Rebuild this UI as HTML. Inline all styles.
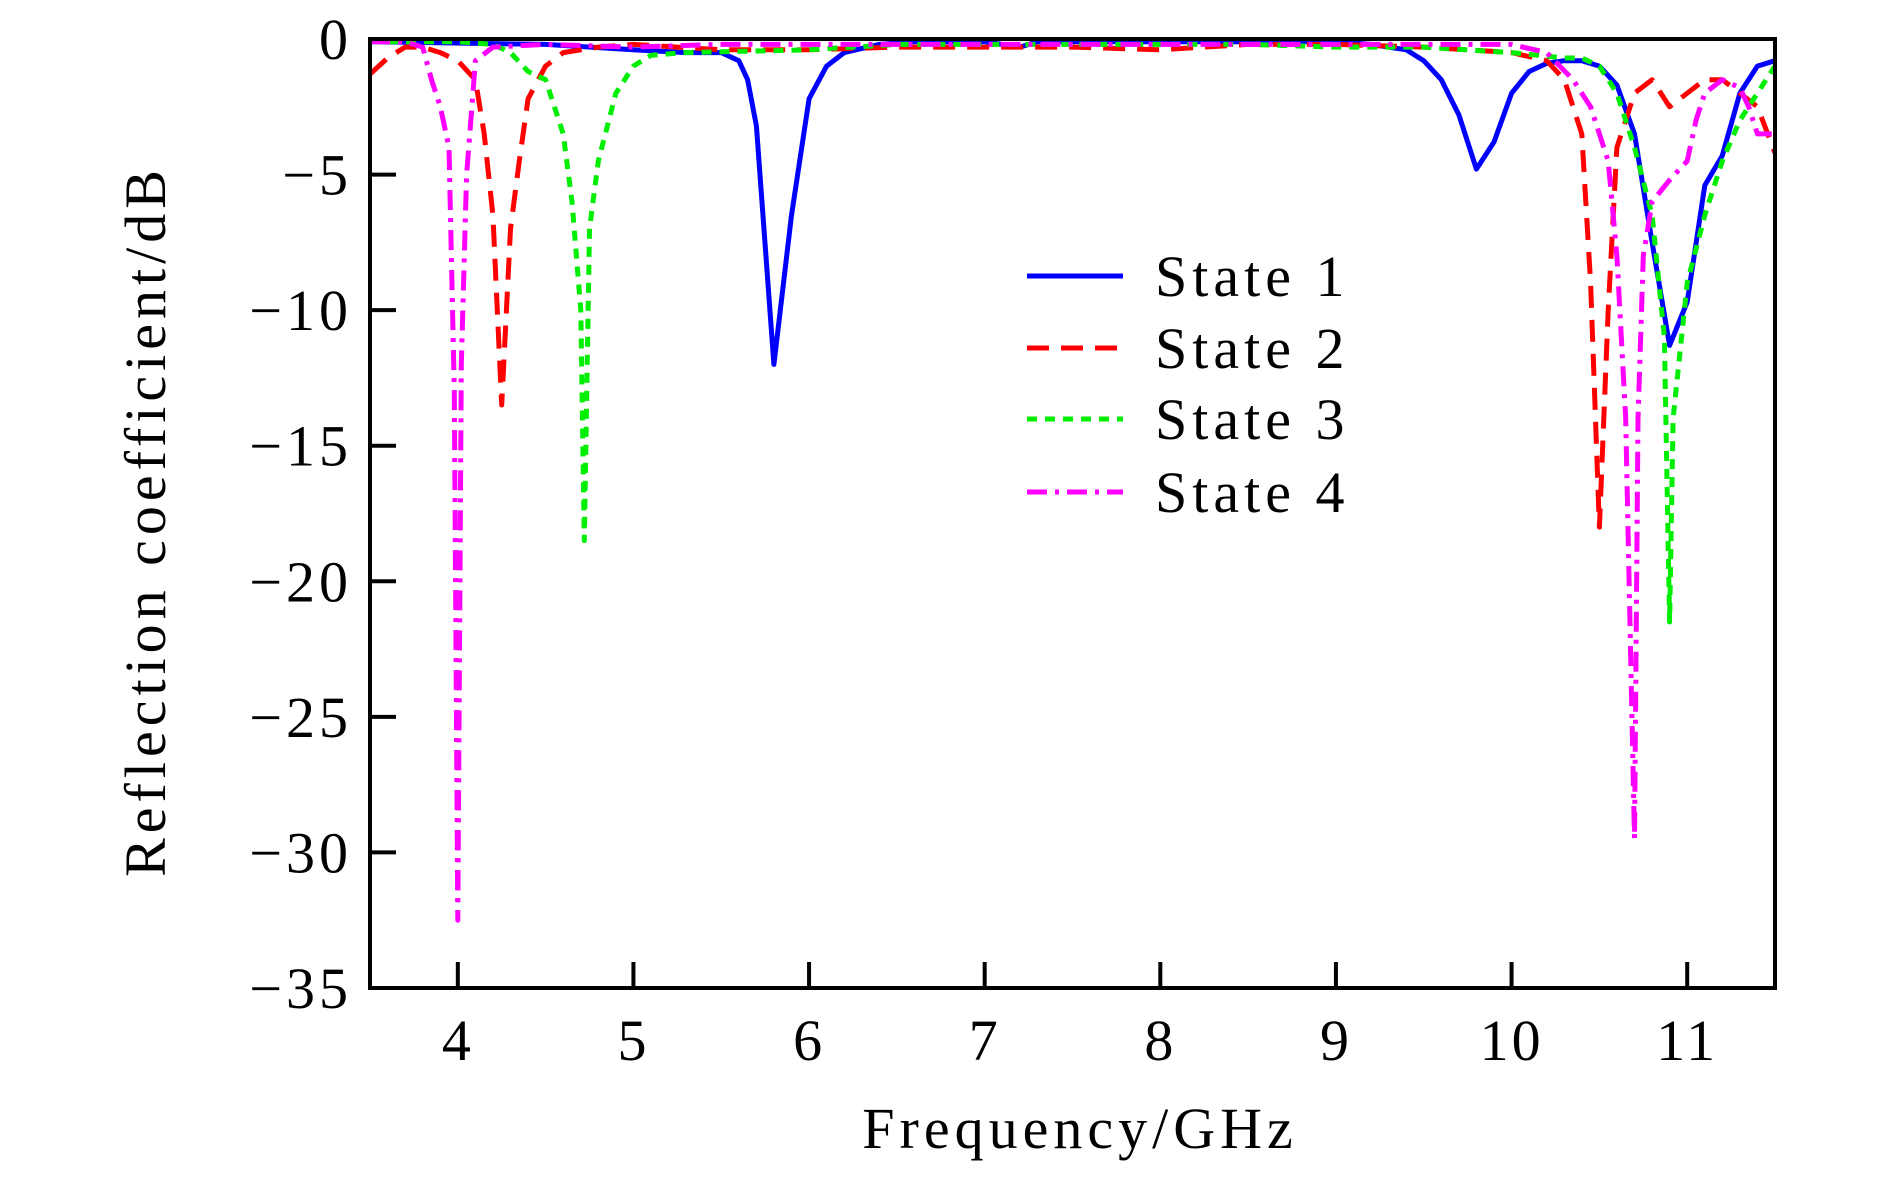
<!DOCTYPE html>
<html><head><meta charset="utf-8"><style>
html,body{margin:0;padding:0;background:#fff;}
svg{display:block;font-family:"Liberation Serif",serif;}
</style></head><body>
<svg id="chart" width="1890" height="1182" viewBox="0 0 1890 1182" xmlns="http://www.w3.org/2000/svg">
<g id="series"></g>
<rect x="370" y="39" width="1405" height="949" fill="none" stroke="#000" stroke-width="4"/>
<g id="ticks"></g>
<text x="1080" y="1148" font-size="58" text-anchor="middle" letter-spacing="5">Frequency/GHz</text>
<text x="165" y="521" font-size="58" text-anchor="middle" transform="rotate(-90 165 521)" letter-spacing="5">Reflection coefficient/dB</text>
<g id="legend"></g>
</svg>
<script>
const xTicks=[4,5,6,7,8,9,10,11];
const yTicks=[0,-5,-10,-15,-20,-25,-30,-35];
const seriesNames=["State 1","State 2","State 3","State 4"];
const s1x=[3.5,4.5,5,5.3,5.5,5.6,5.65,5.7,5.8,5.9,6.0,6.1,6.2,6.4,6.6,7.0,7.2,7.3,9.0,9.2,9.4,9.5,9.6,9.7,9.8,9.9,10.0,10.1,10.2,10.3,10.4,10.5,10.6,10.7,10.8,10.9,11.0,11.1,11.2,11.3,11.4,11.5];
const s1y=[-0.1,-0.2,-0.4,-0.5,-0.5,-0.8,-1.5,-3.2,-12,-6.5,-2.2,-1.0,-0.5,-0.2,-0.1,-0.1,-0.3,-0.1,-0.1,-0.2,-0.4,-0.8,-1.5,-2.8,-4.8,-3.8,-2.0,-1.2,-0.9,-0.8,-0.8,-1.0,-1.7,-3.5,-7.5,-11.3,-9.7,-5.4,-4.3,-2.0,-1.0,-0.8];
const s2x=[3.5,3.6,3.7,3.8,3.9,4.0,4.1,4.15,4.2,4.25,4.3,4.35,4.4,4.5,4.6,4.8,5.0,5.5,6.0,6.5,7.0,7.5,8.0,8.5,9.0,9.5,10.0,10.2,10.3,10.4,10.45,10.5,10.55,10.6,10.7,10.8,10.9,11.0,11.1,11.2,11.3,11.4,11.5];
const s2y=[-1.3,-0.7,-0.3,-0.3,-0.5,-0.8,-1.5,-3.5,-6.5,-13.5,-7,-4.5,-2.2,-1.0,-0.5,-0.3,-0.2,-0.4,-0.4,-0.3,-0.3,-0.3,-0.4,-0.2,-0.2,-0.3,-0.5,-0.8,-1.5,-3.5,-9,-18,-10,-4.0,-2.0,-1.5,-2.5,-2.0,-1.5,-1.5,-2.0,-2.5,-4.2];
const s3x=[3.5,4.0,4.2,4.3,4.4,4.5,4.6,4.65,4.7,4.72,4.75,4.8,4.9,5.0,5.1,5.3,6.0,6.5,7.5,8.5,9.0,9.5,10.0,10.3,10.4,10.5,10.6,10.7,10.8,10.87,10.9,10.92,11.0,11.1,11.2,11.3,11.4,11.5];
const s3y=[-0.1,-0.1,-0.2,-0.5,-1.2,-1.5,-3.5,-6,-10,-18.5,-7,-4.5,-2.0,-1.0,-0.6,-0.5,-0.4,-0.2,-0.2,-0.2,-0.3,-0.3,-0.5,-0.7,-0.7,-1.0,-2.0,-4.0,-6.5,-11,-21.5,-14,-9,-6.5,-4.5,-3.0,-2.0,-1.0];
const s4x=[3.5,3.7,3.8,3.85,3.9,3.95,3.98,4.0,4.02,4.05,4.08,4.1,4.2,4.5,5.0,5.5,6.5,7.5,8.5,9.5,10.0,10.2,10.35,10.45,10.55,10.6,10.65,10.7,10.72,10.75,10.8,10.9,11.0,11.05,11.1,11.2,11.3,11.35,11.4,11.5];
const s4y=[-0.1,-0.1,-0.3,-1.5,-2.5,-4,-13,-32.5,-12,-5,-2.5,-0.8,-0.3,-0.2,-0.3,-0.2,-0.2,-0.2,-0.2,-0.2,-0.2,-0.5,-1.5,-2.5,-4.5,-8,-14,-29.5,-14,-8,-6,-5.2,-4.5,-3.0,-2.0,-1.5,-1.8,-2.5,-3.5,-3.5];

const L=370,R=1775,T=39,B=988,X0=3.5,X1=11.5,Y0=-35,Y1=0;
const NS="http://www.w3.org/2000/svg";
function xs(v){return L+(v-X0)/(X1-X0)*(R-L);}
function ys(v){return B-(v-Y0)/(Y1-Y0)*(B-T);}
function mk(tag,attrs,parent){const e=document.createElementNS(NS,tag);for(const k in attrs)e.setAttribute(k,attrs[k]);parent.appendChild(e);return e;}

const styles=[{c:"#0000ff",d:""},{c:"#ff0000",d:"22 12"},{c:"#00ee00",d:"10 8"},{c:"#ff00ff",d:"20 8 4 8"}];
const xsArr=[s1x,s2x,s3x,s4x],ysArr=[s1y,s2y,s3y,s4y];
const sg=document.getElementById("series");
for(let i=0;i<4;i++){
  const pts=xsArr[i].map((x,j)=>xs(x).toFixed(1)+","+ys(ysArr[i][j]).toFixed(1)).join(" ");
  const p=mk("polyline",{points:pts,fill:"none",stroke:styles[i].c,"stroke-width":5,"stroke-dasharray":styles[i].d,"stroke-linejoin":"round"},sg);
  
  
}
const tg=document.getElementById("ticks");
xTicks.forEach(v=>{
  const l=mk("line",{x1:xs(v),x2:xs(v),y1:B,y2:B-26,stroke:"#000","stroke-width":4},tg);
  
  
  const t=mk("text",{x:xs(v),y:1060,"font-size":58,"text-anchor":"middle","letter-spacing":"3"},tg);
  t.textContent=v;
  
  
});
yTicks.forEach(v=>{
  const l=mk("line",{x1:L,x2:L+26,y1:ys(v),y2:ys(v),stroke:"#000","stroke-width":4},tg);
  
  
  const t=mk("text",{x:352,y:ys(v)+20,"font-size":58,"text-anchor":"end","letter-spacing":"4"},tg);
  t.textContent=v<0?"\u2212"+Math.abs(v):String(v);
  
  
});
const lg=document.getElementById("legend");
const rowY=[276,348,419,492];
for(let i=0;i<4;i++){
  const l=mk("line",{x1:1027,x2:1123,y1:rowY[i],y2:rowY[i],stroke:styles[i].c,"stroke-width":5,"stroke-dasharray":styles[i].d},lg);
  
  
  const t=mk("text",{x:1155,y:rowY[i]+20,"font-size":58,"letter-spacing":"5"},lg);
  t.textContent=seriesNames[i];
  
  
}
</script>
</body></html>
